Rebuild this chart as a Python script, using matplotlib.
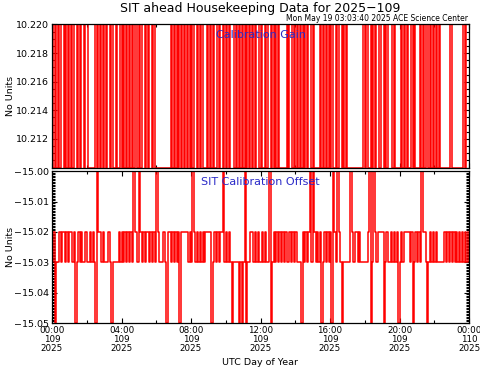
import matplotlib
matplotlib.use('Agg')
import matplotlib.pyplot as plt
import numpy as np
from matplotlib.ticker import MultipleLocator, FuncFormatter

# 5 minute samples, one string per UTC hour (12 samples each)
# calibration gain: '1' -> GAIN_HIGH, '0' -> GAIN_LOW
GAIN_HOURS = [
    "101010110101", "010110101101", "100000101010", "101101001001",
    "010101010110", "101101011010", "000000000010", "101010101010",
    "101101010001", "010100101101", "010111010101", "010101010110",
    "100101101010", "100000101101", "010101010110", "100001010101",
    "010010110101", "000000000001", "010010101101", "101011101000",
    "010101001010", "001010110101", "010100000001", "000000001011",
]
GAIN_HIGH = 10.220
GAIN_LOW = 10.210

# calibration offset: digit d -> -15.00 - d/100
OFFSET_HOURS = [
    "325332322323", "223253232332", "332323502232", "333235333323",
    "232323230223", "023232232323", "023332352232", "323252222232",
    "302323232322", "225323232203", "232353333535", "305332232323",
    "323233053232", "323232332323", "233352323203", "023232532323",
    "250230235333", "330232232333", "332053023222", "253233232325",
    "323222232532", "323022353232", "323333323232", "323232323232",
]

GAIN_TICKS = [10.212, 10.214, 10.216, 10.218, 10.220]
OFFSET_TICKS = [-15.05, -15.04, -15.03, -15.02, -15.01, -15.00]
X_TICKS = [0, 4, 8, 12, 16, 20, 24]
X_TICK_LABELS = ["00:00\n109\n2025", "04:00\n109\n2025", "08:00\n109\n2025",
                 "12:00\n109\n2025", "16:00\n109\n2025", "20:00\n109\n2025",
                 "00:00\n110\n2025"]

TITLE = "SIT ahead Housekeeping Data for 2025\u2212109"
STAMP = "Mon May 19 03:03:40 2025 ACE Science Center"

gain = np.array([GAIN_HIGH if c == '1' else GAIN_LOW for c in ''.join(GAIN_HOURS)])
offset = np.array([-15.0 - int(c) / 100 for c in ''.join(OFFSET_HOURS)])
hours = np.arange(len(gain)) * 5 / 60.0

fig = plt.figure(figsize=(4.81, 3.70), dpi=100)
ax1 = fig.add_axes([0.1081, 0.547, 0.867, 0.387])
ax2 = fig.add_axes([0.1081, 0.127, 0.867, 0.410])

ax1.plot(hours, gain, color='red', lw=1.1, drawstyle='steps-post')
ax2.plot(hours, offset, color='red', lw=1.1, drawstyle='steps-post')

blue = '#2a2ac8'
ax1.text(0.5, 0.925, "Calibration Gain", transform=ax1.transAxes,
         ha='center', va='center', color=blue, fontsize=8, zorder=5)
ax2.text(0.5, 0.93, "SIT Calibration Offset", transform=ax2.transAxes,
         ha='center', va='center', color=blue, fontsize=8, zorder=5)

for ax in (ax1, ax2):
    ax.set_xlim(0, 24)
    ax.set_xticks(X_TICKS)
    ax.xaxis.set_minor_locator(MultipleLocator(2))
    ax.tick_params(which='both', direction='in', top=True, right=True,
                   labelsize=6.8, pad=2, width=0.8)
    ax.tick_params(which='major', length=3.5)
    ax.tick_params(which='minor', length=2)
    for s in ax.spines.values():
        s.set_linewidth(0.9)

ax1.set_ylim(GAIN_LOW, GAIN_HIGH)
ax1.set_yticks(GAIN_TICKS)
ax1.yaxis.set_major_formatter(FuncFormatter(lambda v, _: f'{v:.3f}'))
ax1.yaxis.set_minor_locator(MultipleLocator(0.0005))
ax1.set_xticklabels([])

ax2.set_ylim(-15.05, -15.00)
ax2.set_yticks(OFFSET_TICKS)
ax2.yaxis.set_major_formatter(FuncFormatter(lambda v, _: f'{v:.2f}'.replace('-', '\u2212')))
ax2.yaxis.set_minor_locator(MultipleLocator(0.0005))
ax2.set_xticklabels(X_TICK_LABELS, linespacing=1.0, fontsize=6.3)

fig.text(0.5413, 0.976, TITLE, ha='center', va='center', fontsize=9)
fig.text(0.973, 0.949, STAMP, ha='right', va='center', fontsize=5.5)
fig.text(0.022, 0.74, "No Units", rotation=90, ha='center', va='center', fontsize=6.8)
fig.text(0.022, 0.332, "No Units", rotation=90, ha='center', va='center', fontsize=6.8)
fig.text(0.5413, 0.019, "UTC Day of Year", ha='center', va='center', fontsize=6.8)

fig.savefig('out.png', dpi=100)
